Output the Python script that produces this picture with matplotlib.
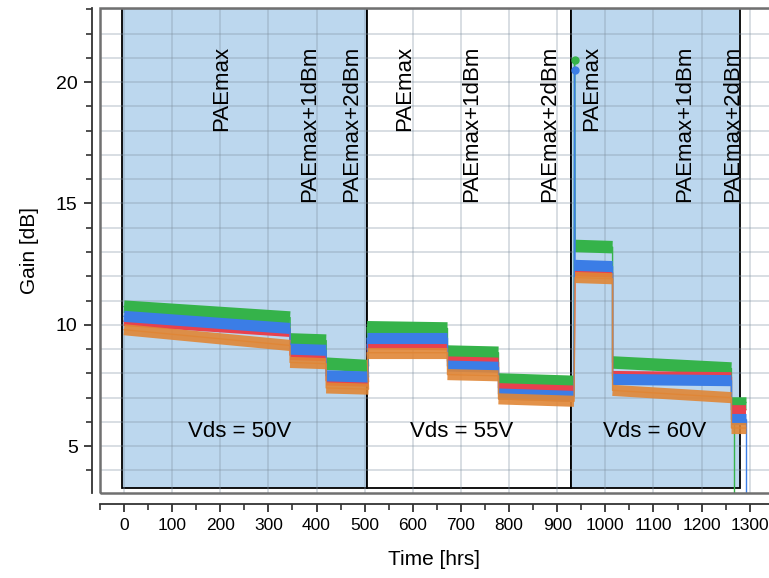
import numpy as np
import matplotlib.pyplot as plt
from matplotlib.patches import Rectangle
from matplotlib.ticker import MultipleLocator

plt.rcParams['font.family'] = ['Liberation Sans', 'DejaVu Sans']

# stress steps: start / end time of each power step [hrs]
seg_start = [0, 345, 420, 505, 672, 778, 937, 1015, 1262]
seg_end = [345, 420, 508, 672, 778, 935, 1015, 1262, 1292]

# gain at start and end of each step [dB], one list per device
green_start = [10.75, 9.40, 8.40, 9.90, 8.90, 7.75, 13.25, 8.45, 6.80]
green_end = [10.30, 9.35, 8.30, 9.85, 8.85, 7.65, 13.20, 8.20, 6.80]
blue_start = [10.35, 9.00, 7.90, 9.45, 8.30, 7.15, 12.45, 7.75, 6.10]
blue_end = [9.85, 8.95, 7.85, 9.45, 8.25, 7.05, 12.40, 7.70, 6.10]
red_start = [10.15, 8.75, 7.70, 9.20, 8.50, 7.40, 12.20, 7.90, 6.50]
red_end = [9.70, 8.70, 7.65, 9.15, 8.45, 7.30, 12.15, 7.85, 6.50]
orange_start = [9.80, 8.45, 7.40, 8.85, 7.95, 6.95, 11.95, 7.30, 5.75]
orange_end = [9.15, 8.40, 7.35, 8.85, 7.90, 6.85, 11.90, 7.00, 5.75]

# short overshoot when switching to Vds = 60V
spike_t = 936
spike_green = 20.9
spike_blue = 20.5

# drop-out at the end of the test
drop_green_t = 1268
drop_blue_t = 1292

# bias regions
vds_labels = ['Vds = 50V', 'Vds = 55V', 'Vds = 60V']
vds_from = [-4, 505, 928]
vds_to = [505, 928, 1280]
vds_fill = ['#bcd7ee', 'white', '#bcd7ee']
vds_label_t = [241, 702, 1103]

step_labels = ['PAEmax', 'PAEmax+1dBm', 'PAEmax+2dBm'] * 3
step_label_t = [203, 386, 473, 584, 723, 885, 972, 1165, 1265]

fig = plt.figure(figsize=(7.69, 5.78), dpi=100)
ax = fig.add_axes([0.130, 0.147, 0.870, 0.839])
ax.set_xlim(-50, 1340)
ax.set_ylim(3.07, 23.05)

for x0, x1, fc in zip(vds_from, vds_to, vds_fill):
    ax.add_patch(Rectangle((x0, 3.27), x1 - x0, 23.05 - 3.27, facecolor=fc,
                           edgecolor='black', lw=1.3, zorder=0))

ax.set_axisbelow(True)
ax.xaxis.set_major_locator(MultipleLocator(100))
ax.xaxis.set_minor_locator(MultipleLocator(50))
ax.yaxis.set_major_locator(MultipleLocator(5))
ax.yaxis.set_minor_locator(MultipleLocator(1))
ax.grid(True, which='major', axis='x', color='#7f8f9f', alpha=0.35, lw=1.2)
ax.grid(True, which='both', axis='y', color='#7f8f9f', alpha=0.35, lw=1.2)


def draw_device(starts, ends, color, lw, spike=None, drop=None, alpha=1.0):
    tt, gg = [], []
    for i, (t0, t1, g0, g1) in enumerate(zip(seg_start, seg_end, starts, ends)):
        if spike and i == 6:
            tt.append(spike[0])
            gg.append(spike[1])
        tt += [t0, t1]
        gg += [g0, g1]
        ax.plot([t0, t1], [g0, g1], color=color, lw=lw, alpha=alpha,
                solid_capstyle='butt', zorder=2)
    ax.plot(tt, gg, color=color, lw=1.0, alpha=alpha, zorder=2)
    if spike:
        ax.plot(spike[0], spike[1], 'o', ms=5, color=color, zorder=2)
    if drop:
        ax.vlines(drop, 2.0, ends[-1], color=color, lw=1.0, zorder=2)


draw_device(green_start, green_end, '#35b34a', 9,
            spike=(spike_t, spike_green), drop=drop_green_t)
draw_device(red_start, red_end, '#e8414e', 7)
draw_device(blue_start, blue_end, '#3b7de6', 8,
            spike=(spike_t, spike_blue), drop=drop_blue_t)
draw_device(orange_start, orange_end, '#e08636', 8, alpha=0.9)

for lab, t in zip(step_labels, step_label_t):
    ax.text(t, 21.5, lab, rotation=90, ha='center', va='top',
            fontsize=16, zorder=3)
for lab, t in zip(vds_labels, vds_label_t):
    ax.text(t, 5.6, lab, ha='center', va='center', fontsize=16, zorder=3)

# plot frame plus detached axes
ax.spines['top'].set_visible(False)
ax.spines['right'].set_visible(False)
ax.add_patch(Rectangle((0, 0), 1.2, 1, transform=ax.transAxes, fill=False,
                       edgecolor='#707070', lw=1.8, clip_on=False, zorder=4))
ax.spines['left'].set_position(('outward', 6))
ax.spines['bottom'].set_position(('outward', 8))
for s in ('left', 'bottom'):
    ax.spines[s].set_color('#333333')
    ax.spines[s].set_linewidth(1.3)
ax.tick_params(which='major', length=6, width=1.3, color='#333333', pad=4)
ax.tick_params(axis='y', labelsize=14)
ax.tick_params(axis='x', labelsize=12.5)
ax.tick_params(which='minor', length=4, width=1.2, color='#333333')
ax.set_xticks(np.arange(0, 1301, 100))
ax.set_yticks([5, 10, 15, 20])

ax.set_xlabel('Time [hrs]', fontsize=15, labelpad=12)
ax.set_ylabel('Gain [dB]', fontsize=15, labelpad=12)

fig.savefig('out.png', dpi=100)
